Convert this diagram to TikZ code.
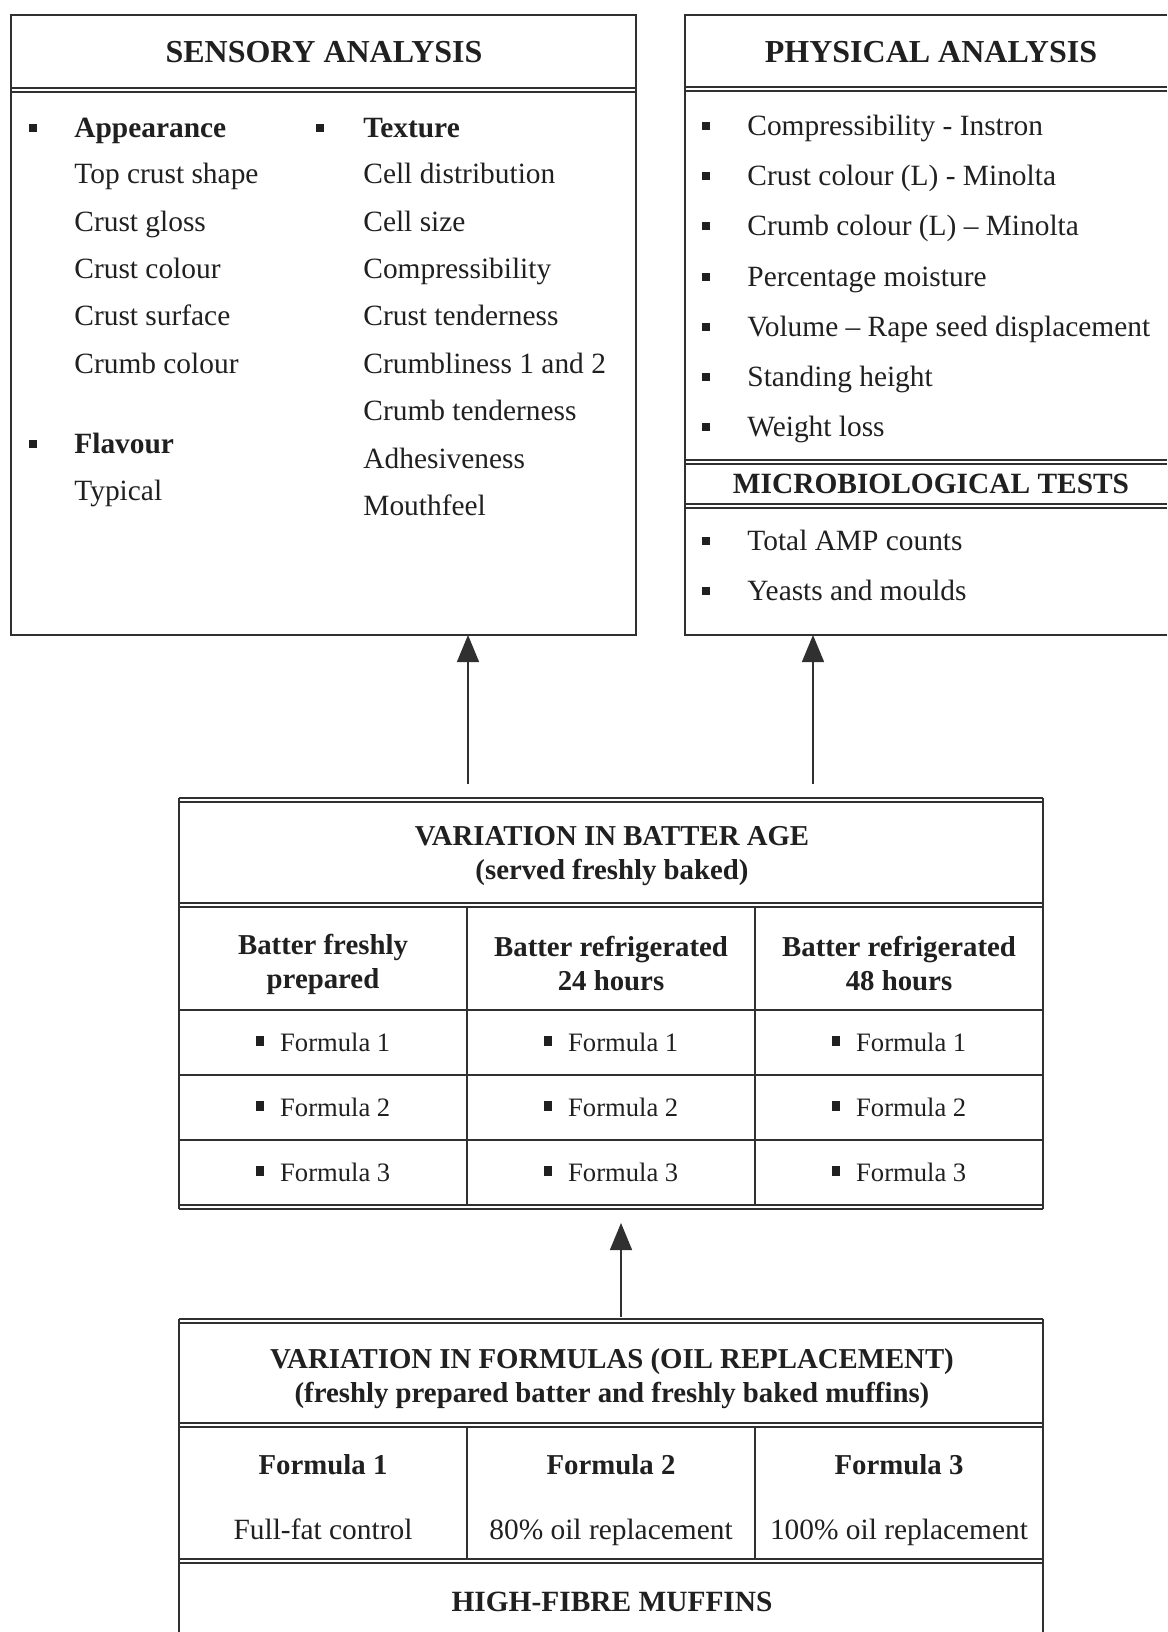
\documentclass[tikz,border=0pt]{standalone}
\usepackage{fontspec}
\setmainfont{Liberation Serif}
\usetikzlibrary{arrows.meta}
\definecolor{ink}{HTML}{202020}
\definecolor{rulec}{HTML}{303030}
\newcommand{\smsq}{\rule[0.2em]{0.32em}{0.36em}}
\tikzset{
  thk/.style={line width=1.4pt, draw=rulec},
  thn/.style={line width=0.6pt, draw=rulec},
  vln/.style={line width=0.9pt, draw=rulec},
  txt/.style={anchor=west, inner sep=0pt, text=ink, text height=0.7em, text depth=0.2em, yshift=-2pt, font=\fontsize{14.7}{17}\selectfont},
  btxt/.style={txt, font=\fontsize{14.7}{17}\selectfont\bfseries},
  head/.style={inner sep=0pt, text=ink, text height=0.7em, text depth=0.2em, yshift=-3pt, font=\fontsize{16}{19}\selectfont\bfseries},
  chead/.style={inner sep=0pt, text=ink, align=center, yshift=-1.5pt, font=\fontsize{14.4}{17}\selectfont\bfseries},
  cell/.style={inner sep=0pt, text=ink, text height=0.7em, text depth=0.2em, yshift=-1.5pt, font=\fontsize{13.3}{16}\selectfont},
  ctxt/.style={inner sep=0pt, text=ink, text height=0.7em, text depth=0.2em, yshift=-2pt, font=\fontsize{14.7}{17}\selectfont},
  sqb/.style={rectangle, inner sep=0pt, fill=ink, minimum width=3.8pt, minimum height=4.4pt},
  arr/.style={line width=0.7pt, draw=rulec, -{Triangle[length=13.5pt,width=11pt]}}
}
\begin{document}
\begin{tikzpicture}[x=0.5pt,y=-0.5pt]
\useasboundingbox (0,0) rectangle (1167,1632);
\fill[white] (0,0) rectangle (1167,1632);

% ---------------- SENSORY ANALYSIS box ----------------
\draw[thk] (10,15) -- (637,15);
\draw[thk] (10,88) -- (637,88);
\draw[thn] (10,92) -- (637,92);
\draw[thk] (10,635) -- (637,635);
\draw[vln] (11,15) -- (11,635);
\draw[vln] (636,15) -- (636,635);
\node[head] (sens) at (324,52) {SENSORY ANALYSIS};

\node[sqb] (sb1) at (33,128) {};
\node[btxt] (s1) at (74,128) {Appearance};
\node[txt] (s2) at (74,175) {Top crust shape};
\node[txt] (s3) at (74,222) {Crust gloss};
\node[txt] (s4) at (74,269) {Crust colour};
\node[txt] (s5) at (74,316) {Crust surface};
\node[txt] (s6) at (74,364) {Crumb colour};
\node[sqb] (sb2) at (33,444) {};
\node[btxt] (s7) at (74,444) {Flavour};
\node[txt] (s8) at (74,491) {Typical};

\node[sqb] (sb3) at (320,128) {};
\node[btxt] (t1) at (363,128) {Texture};
\node[txt] (t2) at (363,175) {Cell distribution};
\node[txt] (t3) at (363,222) {Cell size};
\node[txt] (t4) at (363,269) {Compressibility};
\node[txt] (t5) at (363,316) {Crust tenderness};
\node[txt] (t6) at (363,364) {Crumbliness 1 and 2};
\node[txt] (t7) at (363,411) {Crumb tenderness};
\node[txt] (t8) at (363,459) {Adhesiveness};
\node[txt] (t9) at (363,506) {Mouthfeel};

% ---------------- PHYSICAL ANALYSIS box ----------------
\draw[thk] (684,15) -- (1167,15);
\draw[thk] (684,87) -- (1167,87);
\draw[thn] (684,91) -- (1167,91);
\draw[thk] (684,460) -- (1167,460);
\draw[thn] (684,464) -- (1167,464);
\draw[thk] (684,504) -- (1167,504);
\draw[thn] (684,508) -- (1167,508);
\draw[thk] (684,635) -- (1167,635);
\draw[vln] (685,15) -- (685,635);
\node[head] (phys) at (931,52) {PHYSICAL ANALYSIS};

\node[sqb] (pb1) at (706,126) {};
\node[txt] (p1) at (747,126) {Compressibility - Instron};
\node[sqb] (pb2) at (706,176) {};
\node[txt] (p2) at (747,176) {Crust colour (L) - Minolta};
\node[sqb] (pb3) at (706,226) {};
\node[txt] (p3) at (747,226) {Crumb colour (L) – Minolta};
\node[sqb] (pb4) at (706,277) {};
\node[txt] (p4) at (747,277) {Percentage moisture};
\node[sqb] (pb5) at (706,327) {};
\node[txt] (p5) at (747,327) {Volume – Rape seed displacement};
\node[sqb] (pb6) at (706,377) {};
\node[txt] (p6) at (747,377) {Standing height};
\node[sqb] (pb7) at (706,427) {};
\node[txt] (p7) at (747,427) {Weight loss};

\node[ctxt, font=\fontsize{14.7}{17}\selectfont\bfseries] (micro) at (931,484) {MICROBIOLOGICAL TESTS};
\node[sqb] (mb1) at (706,541) {};
\node[txt] (m1) at (747,541) {Total AMP counts};
\node[sqb] (mb2) at (706,591) {};
\node[txt] (m2) at (747,591) {Yeasts and moulds};

% ---------------- VARIATION IN BATTER AGE ----------------
\draw[thk] (179,798) -- (1043,798);
\draw[thn] (179,802) -- (1043,802);
\draw[thk] (179,903) -- (1043,903);
\draw[thn] (179,907) -- (1043,907);
\draw[thn] (179,1010) -- (1043,1010);
\draw[thn] (179,1075) -- (1043,1075);
\draw[thn] (179,1140) -- (1043,1140);
\draw[thn] (179,1205) -- (1043,1205);
\draw[thk] (179,1209) -- (1043,1209);
\draw[vln] (179,798) -- (179,1209);
\draw[vln] (1043,798) -- (1043,1209);
\draw[vln] (467,907) -- (467,1205);
\draw[vln] (755,907) -- (755,1205);

\node[chead] (age) at (612,853) {VARIATION IN BATTER AGE\\(served freshly baked)};
\node[chead] (c1) at (323,961) {Batter freshly\\prepared};
\node[chead] (c2) at (611,961) {Batter refrigerated\\24 hours};
\node[chead] (c3) at (899,961) {Batter refrigerated\\48 hours};

\node[cell] (f11) at (323,1043) {\smsq\hspace{0.6em}Formula 1};
\node[cell] (f21) at (323,1108) {\smsq\hspace{0.6em}Formula 2};
\node[cell] (f31) at (323,1173) {\smsq\hspace{0.6em}Formula 3};
\node[cell] (f12) at (611,1043) {\smsq\hspace{0.6em}Formula 1};
\node[cell] (f22) at (611,1108) {\smsq\hspace{0.6em}Formula 2};
\node[cell] (f32) at (611,1173) {\smsq\hspace{0.6em}Formula 3};
\node[cell] (f13) at (899,1043) {\smsq\hspace{0.6em}Formula 1};
\node[cell] (f23) at (899,1108) {\smsq\hspace{0.6em}Formula 2};
\node[cell] (f33) at (899,1173) {\smsq\hspace{0.6em}Formula 3};

% ---------------- VARIATION IN FORMULAS ----------------
\draw[thk] (179,1319) -- (1043,1319);
\draw[thn] (179,1323) -- (1043,1323);
\draw[thk] (179,1423) -- (1043,1423);
\draw[thn] (179,1427) -- (1043,1427);
\draw[thk] (179,1559) -- (1043,1559);
\draw[thn] (179,1563) -- (1043,1563);
\draw[vln] (179,1319) -- (179,1632);
\draw[vln] (1043,1319) -- (1043,1632);
\draw[vln] (467,1427) -- (467,1559);
\draw[vln] (755,1427) -- (755,1559);

\node[chead] (form) at (612,1376) {VARIATION IN FORMULAS (OIL REPLACEMENT)\\(freshly prepared batter and freshly baked muffins)};
\node[ctxt, font=\fontsize{14.4}{17}\selectfont\bfseries] (g1) at (323,1465) {Formula 1};
\node[ctxt, font=\fontsize{14.4}{17}\selectfont\bfseries] (g2) at (611,1465) {Formula 2};
\node[ctxt, font=\fontsize{14.4}{17}\selectfont\bfseries] (g3) at (899,1465) {Formula 3};
\node[ctxt] (h1) at (323,1530) {Full-fat control};
\node[ctxt] (h2) at (611,1530) {80\% oil replacement};
\node[ctxt] (h3) at (899,1530) {100\% oil replacement};
\node[ctxt, font=\fontsize{14.7}{17}\selectfont\bfseries] (muff) at (612,1602) {HIGH-FIBRE MUFFINS};

% ---------------- connectors ----------------
\coordinate (sensB) at (468,635);
\coordinate (physB) at (813,635);
\coordinate (ageL) at (468,784);
\coordinate (ageR) at (813,784);
\coordinate (ageB) at (621,1223);
\coordinate (formT) at (621,1317);
\draw[arr] (ageL) -- (sensB);
\draw[arr] (ageR) -- (physB);
\draw[arr] (formT) -- (ageB);
\end{tikzpicture}
\end{document}
